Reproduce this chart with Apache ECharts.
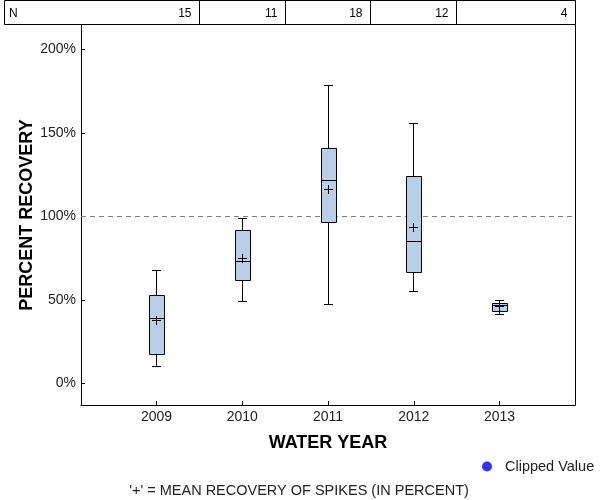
<!DOCTYPE html>
<html><head><meta charset="utf-8">
<script src="https://cdn.jsdelivr.net/npm/echarts@6/dist/echarts.min.js"></script>
<style>html,body{margin:0;padding:0;background:#fff}#chart{width:600px;height:500px}</style>
</head><body><div id="chart"></div>
<script>
// ---- data ----
const years = [2009, 2010, 2011, 2012, 2013];
const nCounts = [15, 11, 18, 12, 4];
const whiskerLow = [10.3, 49.2, 47.4, 55.2, 41.2];
const q1 = [17.5, 61.4, 96.5, 66.2, 43.4];
const median = [39.0, 73.2, 121.3, 85.1, 46.6];
const q3 = [52.8, 91.7, 140.6, 123.8, 48.2];
const whiskerHigh = [67.5, 98.9, 178.3, 155.8, 49.6];
const means = [38.0, 74.6, 116.3, 93.3, 46.3];
const yTicks = [0, 50, 100, 150, 200];
const referenceLine = 100;

const FONT = "'Liberation Sans', Arial, sans-serif";
const boxData = years.map((y, i) => [y, whiskerLow[i], q1[i], median[i], q3[i], whiskerHigh[i], means[i]]);
const tableData = years.map((y, i) => [y, nCounts[i]]);

function crisp(v) { return Math.round(v - 0.5) + 0.5; }

const chart = echarts.init(document.getElementById('chart'), null, {renderer: 'canvas'});
chart.setOption({
  animation: false,
  backgroundColor: '#fff',
  grid: {left: 81, right: 25, top: 25, bottom: 95, show: false},
  legend: {
    data: [{name: 'Clipped Value', icon: 'circle'}],
    left: 482, top: 459, padding: 0, itemWidth: 10, itemHeight: 10,
    textStyle: {fontFamily: FONT, fontSize: 14.5, color: '#222', padding: [0, 0, 0, 8]},
    selectedMode: false
  },
  xAxis: {
    type: 'value', min: 2008.12, max: 2013.88,
    axisLine: {show: true, onZero: false, lineStyle: {color: '#000', width: 1}},
    axisTick: {show: true, inside: true, length: 4, customValues: years, lineStyle: {color: '#000'}},
    axisLabel: {customValues: years, fontFamily: FONT, fontSize: 14, color: '#222', margin: 5, formatter: v => String(v)},
    splitLine: {show: false},
    name: 'WATER YEAR', nameLocation: 'middle', nameGap: 29, nameMoveOverlap: false,
    nameTextStyle: {fontFamily: FONT, fontWeight: 'bold', fontSize: 18, color: '#000'}
  },
  yAxis: {
    type: 'value', min: -12.87, max: 214.67,
    axisLine: {show: true, onZero: false, lineStyle: {color: '#000', width: 1}},
    axisTick: {show: true, inside: true, length: 4, customValues: yTicks, lineStyle: {color: '#000'}},
    axisLabel: {customValues: yTicks, fontFamily: FONT, fontSize: 14, color: '#222', margin: 5, formatter: '{value}%'},
    splitLine: {show: false},
    name: 'PERCENT RECOVERY', nameLocation: 'middle', nameGap: 45, nameMoveOverlap: false,
    nameTextStyle: {fontFamily: FONT, fontWeight: 'bold', fontSize: 18, color: '#000'}
  },
  graphic: [
    {type: 'rect', shape: {x: 4.5, y: 0.5, width: 571, height: 24}, style: {fill: null, stroke: '#000', lineWidth: 1}},
    {type: 'line', shape: {x1: 575.5, y1: 24.5, x2: 575.5, y2: 405.5}, style: {stroke: '#000', lineWidth: 1}},
    {type: 'text', x: 9, y: 14, style: {text: 'N', font: '12px ' + FONT, fill: '#000', align: 'left', verticalAlign: 'middle'}},
    {type: 'text', x: 299, y: 491, style: {text: "'+' = MEAN RECOVERY OF SPIKES (IN PERCENT)", font: '14.5px ' + FONT, fill: '#222', align: 'center', verticalAlign: 'middle'}}
  ],
  series: [
    {
      name: 'Clipped Value', type: 'scatter', data: [], z: 1,
      itemStyle: {color: '#0000ff'},
      markLine: {
        silent: true, symbol: 'none', label: {show: false},
        lineStyle: {color: '#808080', type: [5, 4], width: 1},
        data: [{yAxis: referenceLine}]
      }
    },
    {
      name: 'boxes', type: 'custom', z: 5,
      data: boxData,
      encode: {x: 0, y: [1, 2, 3, 4, 5, 6]},
      renderItem: function (params, api) {
        const yr = api.value(0);
        const cx = crisp(api.coord([yr, 0])[0]);
        const py = i => crisp(api.coord([yr, api.value(i)])[1]);
        const yLo = py(1), yQ1 = py(2), yMed = py(3), yQ3 = py(4), yHi = py(5), yMean = py(6);
        const st = {stroke: '#000', lineWidth: 1, fill: null};
        const cap = 4.5, pl = 4.5;
        return {type: 'group', children: [
          {type: 'line', shape: {x1: cx, y1: yHi, x2: cx, y2: yQ3}, style: st},
          {type: 'line', shape: {x1: cx, y1: yQ1, x2: cx, y2: yLo}, style: st},
          {type: 'line', shape: {x1: cx - cap, y1: yHi, x2: cx + cap, y2: yHi}, style: st},
          {type: 'line', shape: {x1: cx - cap, y1: yLo, x2: cx + cap, y2: yLo}, style: st},
          {type: 'rect', shape: {x: cx - 7, y: yQ3, width: 15, height: yQ1 - yQ3}, style: {fill: '#b9cfe8', stroke: '#000', lineWidth: 1}},
          {type: 'line', shape: {x1: cx - 7, y1: yMed, x2: cx + 8, y2: yMed}, style: st},
          {type: 'line', shape: {x1: cx - pl, y1: yMean, x2: cx + pl, y2: yMean}, style: st},
          {type: 'line', shape: {x1: cx, y1: yMean - pl, x2: cx, y2: yMean + pl}, style: st}
        ]};
      }
    },
    {
      name: 'counts', type: 'custom', z: 5,
      data: tableData,
      encode: {x: 0},
      renderItem: function (params, api) {
        const yr = api.value(0);
        const last = params.dataIndex === years.length - 1;
        const rx = last ? 575.5 : crisp(api.coord([yr + 0.5, 0])[0]);
        const children = [
          {type: 'text', x: rx - 8, y: 14, style: {text: String(api.value(1)), font: '12px ' + FONT, fill: '#000', align: 'right', verticalAlign: 'middle'}}
        ];
        if (!last) children.push({type: 'line', shape: {x1: rx, y1: 0.5, x2: rx, y2: 24.5}, style: {stroke: '#000', lineWidth: 1}});
        return {type: 'group', children: children};
      }
    }
  ]
});
</script></body></html>
